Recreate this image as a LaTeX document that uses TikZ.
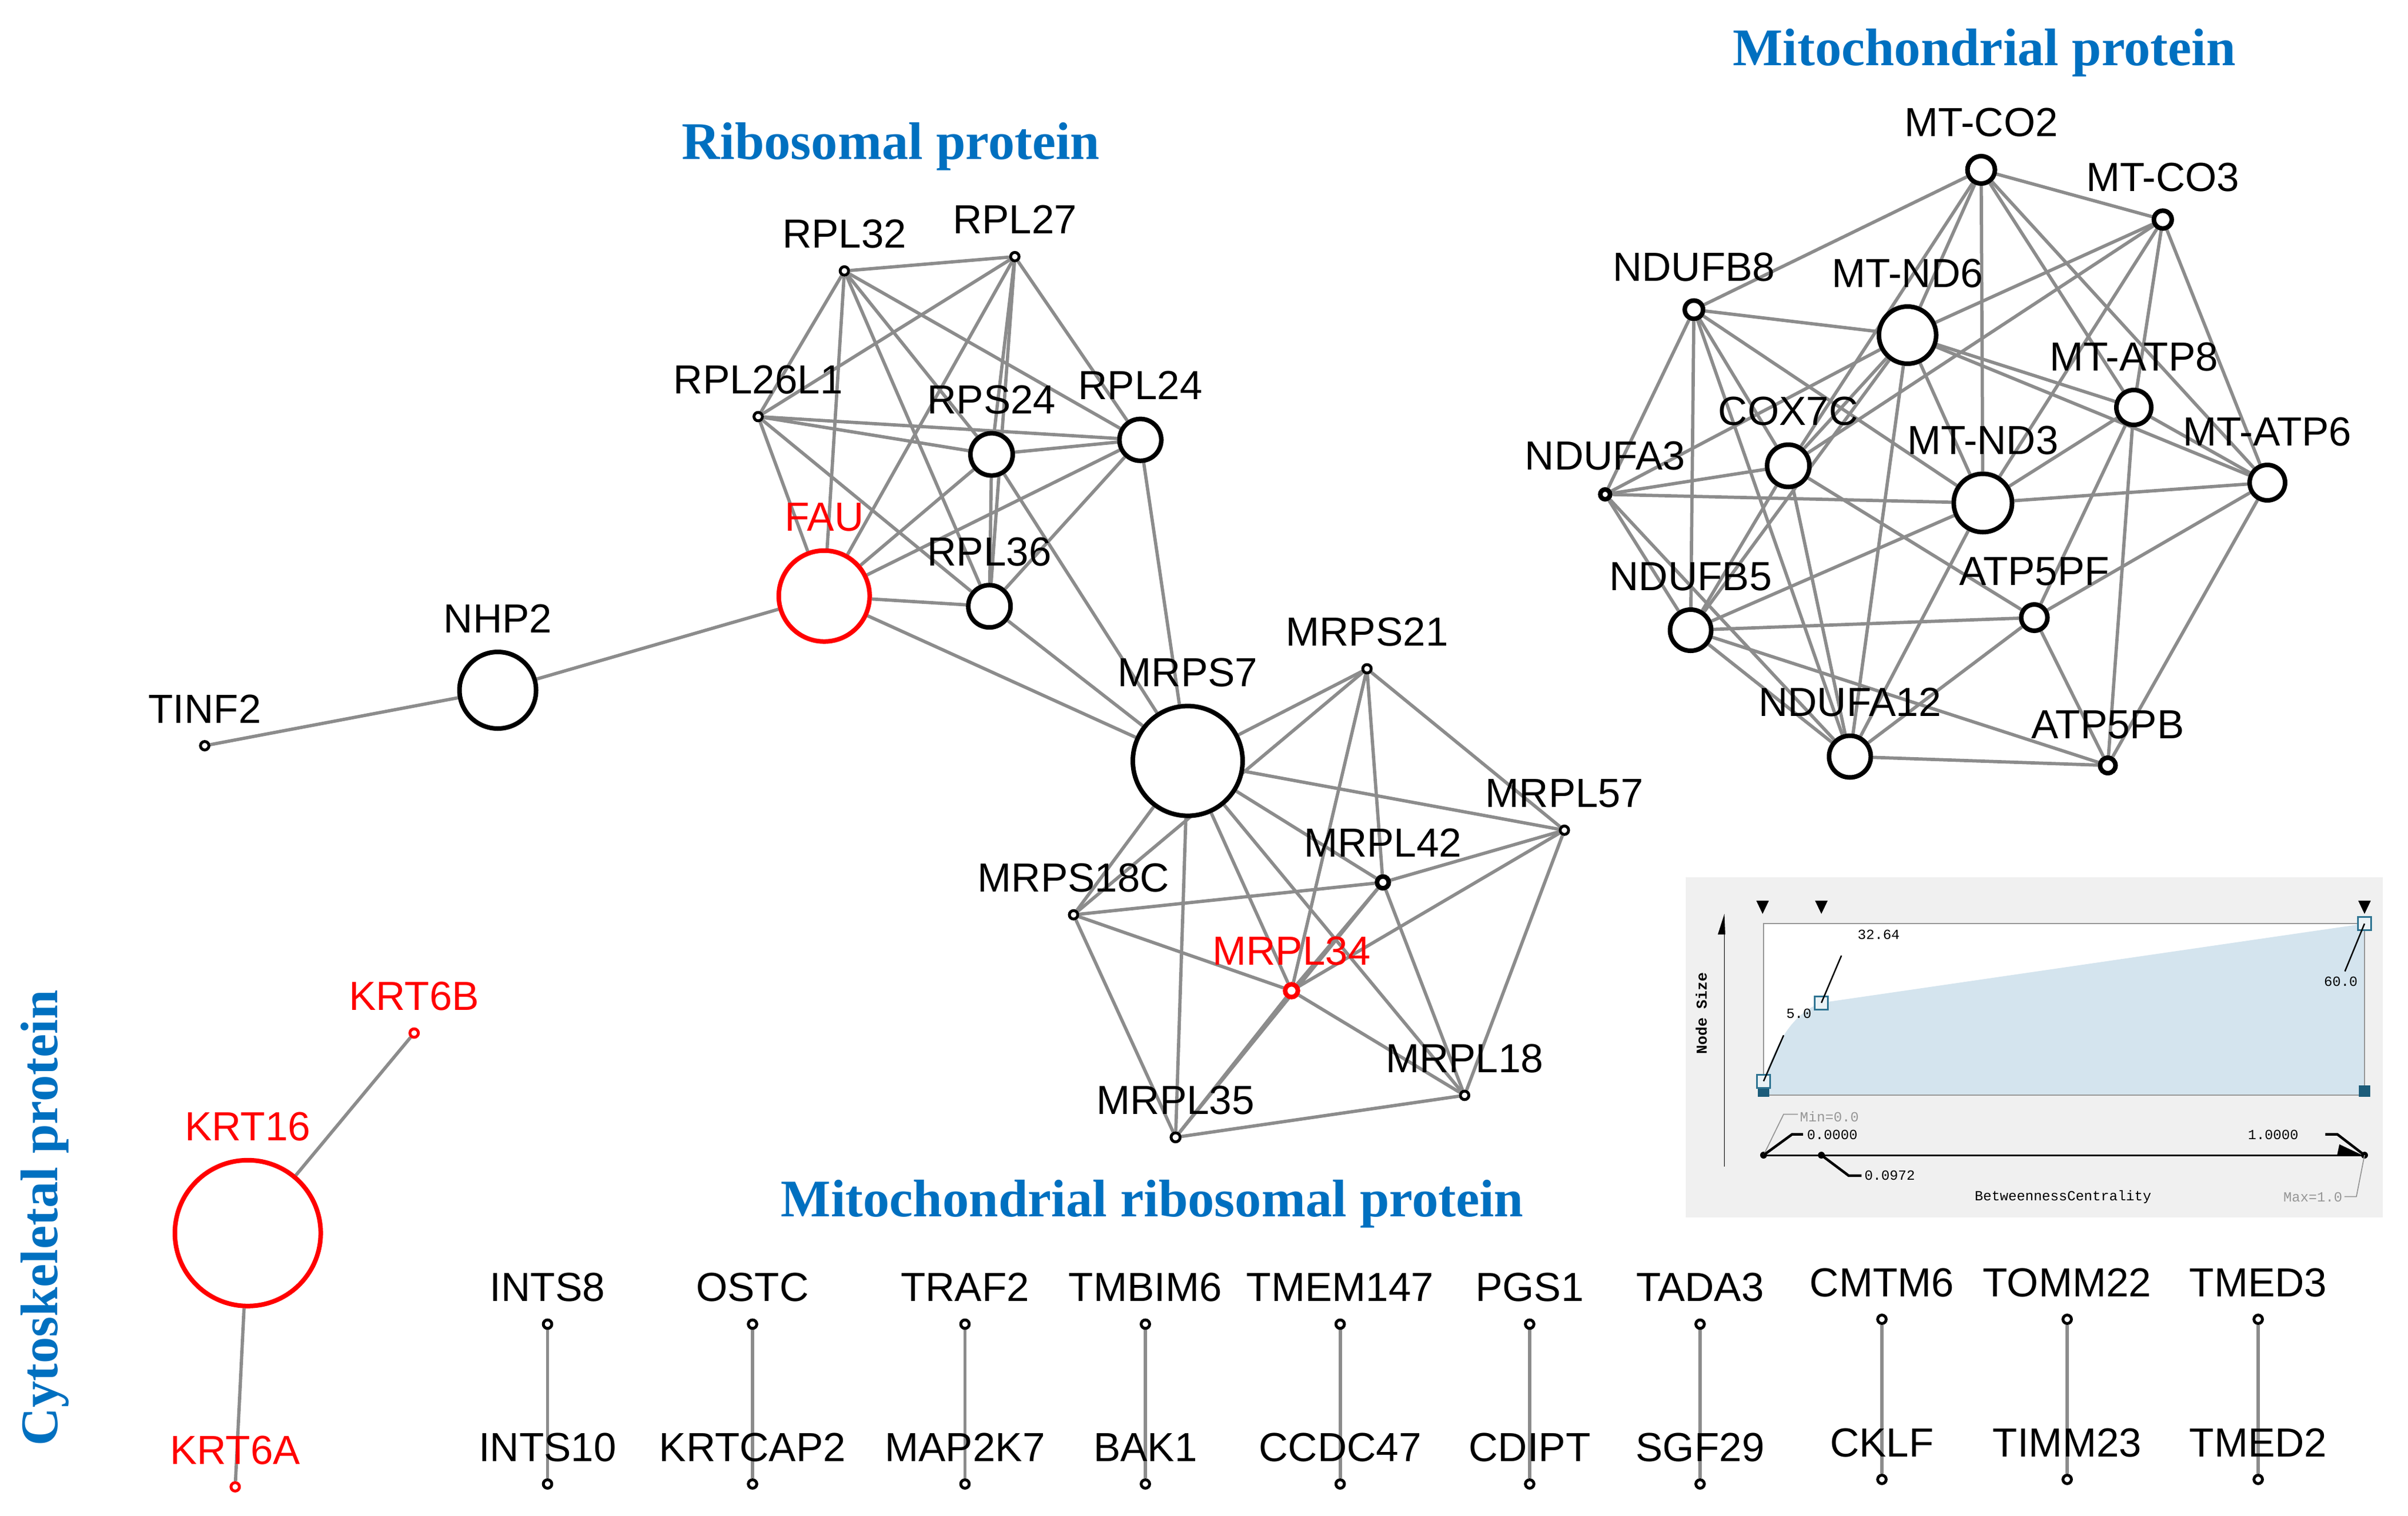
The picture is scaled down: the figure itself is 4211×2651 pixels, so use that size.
\documentclass[tikz,border=0pt]{standalone}
\usepackage{fontspec}
\setmainfont{Liberation Sans}
\newfontfamily\ttlfont{Liberation Serif}
\newfontfamily\lgmono{Liberation Mono}
\usetikzlibrary{backgrounds}
\definecolor{edgegray}{RGB}{140,140,140}
\definecolor{ttlblue}{RGB}{0,112,192}
\definecolor{lgbg}{RGB}{240,240,240}
\definecolor{lgfill}{RGB}{212,228,238}
\definecolor{lgdark}{RGB}{28,92,122}
\definecolor{lgline}{RGB}{45,115,145}
\definecolor{lggray}{RGB}{150,150,150}
\tikzset{
  nd/.style={circle,draw=black,line width=1.6pt,fill=white,inner sep=0pt,minimum size={0.4pt*#1}},
  tn/.style={circle,draw=black,line width=1pt,fill=white,inner sep=0pt,minimum size={0.4pt*#1}},
  lb/.style={anchor=base,inner sep=0pt,font=\fontsize{14.2}{16}\selectfont},
  lnk/.style={draw=edgegray,line width=1.15pt},
  ttl/.style={anchor=base,inner sep=0pt,text=ttlblue,font=\ttlfont\bfseries\fontsize{18.5}{22}\selectfont},
  lgt/.style={inner sep=0pt,font=\lgmono\fontsize{4.9}{5.5}\selectfont},
  hnd/.style={rectangle,draw=lgline,fill=lgfill!50!white,line width=0.6pt,minimum size=4.6pt,inner sep=0pt},
  dhnd/.style={rectangle,fill=lgdark,minimum size=4pt,inner sep=0pt},
  ldot/.style={circle,fill=black,minimum size=2.4pt,inner sep=0pt},
}
\begin{document}
\begin{tikzpicture}[x=0.2pt,y=-0.2pt,label distance=6pt]
\useasboundingbox (0,0) rectangle (4211,2651);

% ---------- titles
\node[ttl] (tRibo) at (1558,278.6) {Ribosomal protein};
\node[ttl] (tMito) at (3470,114.3) {Mitochondrial protein};
\node[ttl] (tMR) at (2015,2127) {Mitochondrial ribosomal protein};
\node[ttl,rotate=90] (tCyto) at (100,2130) {Cytoskeletal protein};

% ---------- ribosomal cluster
\node[tn=7.4,label={[lb]90:TINF2}] (TINF2) at (358,1304) {};
\node[nd=67,label={[lb]90:NHP2}] (NHP2) at (870.5,1207) {};
\node[nd=79.5,draw=red,label={[lb,text=red]90:FAU}] (FAU) at (1441.3,1042.3) {};
\node[tn=7.4,label={[lb]90:RPL32}] (RPL32) at (1476.6,473.8) {};
\node[tn=7.4,label={[lb]90:RPL27}] (RPL27) at (1774.7,448.8) {};
\node[tn=7.4,label={[lb]90:RPL26L1}] (RPL26L1) at (1325.9,728.5) {};
\node[nd=37,label={[lb]90:RPS24}] (RPS24) at (1734,794.6) {};
\node[nd=36.6,label={[lb]90:RPL24}] (RPL24) at (1994.2,769.2) {};
\node[nd=37,label={[lb]90:RPL36}] (RPL36) at (1730.2,1060.2) {};

% ---------- mitochondrial ribosomal cluster
\node[nd=96,label={[lb]90:MRPS7}] (MRPS7) at (2077,1330.6) {};
\node[tn=7.4,label={[lb]90:MRPS21}] (MRPS21) at (2390.5,1169.5) {};
\node[tn=7.4,label={[lb]90:MRPL57}] (MRPL57) at (2735.7,1451.8) {};
\node[nd=10.3,label={[lb]90:MRPL42}] (MRPL42) at (2418.3,1543) {};
\node[tn=7.4,label={[lb]90:MRPS18C}] (MRPS18C) at (1877.4,1599.7) {};
\node[nd=11.2,draw=red,label={[lb,text=red]90:MRPL34}] (MRPL34) at (2258.5,1732.4) {};
\node[tn=7.4,label={[lb]90:MRPL18}] (MRPL18) at (2561.2,1915.4) {};
\node[tn=7.9,label={[lb]90:MRPL35}] (MRPL35) at (2055.8,1988.8) {};

% ---------- mitochondrial cluster
\node[nd=24,label={[lb]90:MT-CO2}] (MTCO2) at (3464.6,297) {};
\node[nd=15.6,label={[lb]90:MT-CO3}] (MTCO3) at (3782.2,384) {};
\node[nd=16,label={[lb]90:NDUFB8}] (NDUFB8) at (2962.2,541.5) {};
\node[nd=50,label={[lb]90:MT-ND6}] (MTND6) at (3335.8,586) {};
\node[nd=30.5,label={[lb]90:MT-ATP8}] (MTATP8) at (3731.5,712.5) {};
\node[nd=37,label={[lb]90:COX7C}] (COX7C) at (3127.2,814.5) {};
\node[nd=8.6,label={[lb]90:NDUFA3}] (NDUFA3) at (2807,864.5) {};
\node[nd=51,label={[lb]90:MT-ND3}] (MTND3) at (3467.5,879.5) {};
\node[nd=31,label={[lb]90:MT-ATP6}] (MTATP6) at (3965,844) {};
\node[nd=36,label={[lb]90:NDUFB5}] (NDUFB5) at (2956.5,1102) {};
\node[nd=23,label={[lb]90:ATP5PF}] (ATP5PF) at (3557.5,1080) {};
\node[nd=36.5,label={[lb]90:NDUFA12}] (NDUFA12) at (3235,1323) {};
\node[nd=13.5,label={[lb]90:ATP5PB}] (ATP5PB) at (3686,1338.5) {};

% ---------- cytoskeletal
\node[nd=127.5,draw=red,line width=1.6pt,label={[lb,text=red]90:KRT16}] (KRT16) at (433.3,2156.3) {};
\node[tn=7.4,draw=red,label={[lb,text=red]90:KRT6B}] (KRT6B) at (724.2,1806.5) {};
\node[tn=7.4,draw=red,label={[lb,text=red]90:KRT6A}] (KRT6A) at (411.3,2600) {};

% ---------- pairs
\foreach \i/\x/\yt/\yb/\ta/\tb in {
  1/957.5/2315.5/2595/INTS8/INTS10,
  2/1316/2315.5/2595/OSTC/KRTCAP2,
  3/1687.5/2315.5/2595/TRAF2/MAP2K7,
  4/2003/2315.5/2595/TMBIM6/BAK1,
  5/2343.6/2315.5/2595/TMEM147/CCDC47,
  6/2675/2315.5/2595/PGS1/CDIPT,
  7/2973/2315.5/2595/TADA3/SGF29,
  8/3291/2307/2587/CMTM6/CKLF,
  9/3615/2307/2587/TOMM22/TIMM23,
  10/3949/2307/2587/TMED3/TMED2}{
  \node[tn=7.4,label={[lb]90:\ta}] (top\i) at (\x,\yt) {};
  \node[tn=7.4,label={[lb]90:\tb}] (bot\i) at (\x,\yb) {};
  \begin{pgfonlayer}{background}
    \draw[lnk] (top\i) -- (bot\i);
  \end{pgfonlayer}
}

% ---------- edges
\begin{pgfonlayer}{background}
\foreach \a/\b in {
  TINF2/NHP2, NHP2/FAU,
  RPL32/RPL27, RPL32/RPL26L1, RPL32/FAU, RPL32/RPS24, RPL32/RPL24, RPL32/RPL36,
  RPL27/RPL26L1, RPL27/FAU, RPL27/RPS24, RPL27/RPL36, RPL27/RPL24,
  RPL26L1/RPS24, RPL26L1/RPL24, RPL26L1/FAU, RPL26L1/RPL36,
  RPS24/RPL24, RPS24/FAU, RPS24/RPL36, RPS24/MRPS7,
  RPL24/FAU, RPL24/RPL36, RPL24/MRPS7,
  FAU/RPL36, FAU/MRPS7, RPL36/MRPS7,
  MRPS7/MRPS21, MRPS7/MRPS18C, MRPS7/MRPL57, MRPS7/MRPL42, MRPS7/MRPL18, MRPS7/MRPL34, MRPS7/MRPL35,
  MRPS21/MRPS18C, MRPS21/MRPL34, MRPS21/MRPL42, MRPS21/MRPL57,
  MRPS18C/MRPL42, MRPS18C/MRPL34, MRPS18C/MRPL35,
  MRPL42/MRPL57, MRPL42/MRPL34, MRPL42/MRPL35, MRPL42/MRPL18,
  MRPL57/MRPL34, MRPL57/MRPL18,
  MRPL34/MRPL18, MRPL34/MRPL35, MRPL35/MRPL18,
  MTCO2/NDUFB8, MTCO2/MTCO3, MTCO2/MTND6, MTCO2/COX7C, MTCO2/MTND3, MTCO2/MTATP8, MTCO2/MTATP6,
  MTCO3/MTND6, MTCO3/COX7C, MTCO3/MTND3, MTCO3/MTATP8, MTCO3/MTATP6,
  NDUFB8/MTND6, NDUFB8/MTND3, NDUFB8/COX7C, NDUFB8/NDUFA12, NDUFB8/NDUFB5, NDUFB8/NDUFA3,
  MTND6/NDUFA3, MTND6/MTATP8, MTND6/MTATP6, MTND6/MTND3, MTND6/COX7C, MTND6/NDUFA12, MTND6/NDUFB5,
  NDUFA3/COX7C, NDUFA3/MTND3, NDUFA3/NDUFB5, NDUFA3/NDUFA12,
  COX7C/NDUFB5, COX7C/NDUFA12, COX7C/ATP5PF,
  MTND3/MTATP8, MTND3/MTATP6, MTND3/NDUFB5, MTND3/NDUFA12,
  MTATP8/MTATP6, MTATP8/ATP5PF, MTATP8/ATP5PB,
  MTATP6/ATP5PF, MTATP6/ATP5PB,
  NDUFB5/ATP5PF, NDUFB5/NDUFA12, NDUFB5/ATP5PB,
  ATP5PF/NDUFA12, ATP5PF/ATP5PB, NDUFA12/ATP5PB,
  KRT16/KRT6B, KRT16/KRT6A}{
  \draw[lnk] (\a) -- (\b);
}
\end{pgfonlayer}

% ---------- legend
\fill[lgbg] (2947.7,1533.5) rectangle (4166.7,2128.5);
\fill[white] (3084,1615.2) rectangle (4135,1915.2);
\fill[lgfill] (3084,1915.2) -- (3084,1890.6) .. controls (3108,1815) and (3140,1770) .. (3185.1,1753.6) -- (4134.9,1615.2) -- (4134.9,1915.2) -- cycle;
\draw[lggray,line width=0.45pt] (3084,1615.2) rectangle (4135,1915.2);
% y axis
\draw[line width=0.35pt] (3015.4,2040) -- (3015.4,1625);
\fill (3004,1634) -- (3015.5,1598) -- (3017,1634) -- cycle;
\node[lgt,font=\lgmono\bfseries\fontsize{5.3}{6}\selectfont,rotate=90] (lgNS) at (2975,1772) {Node Size};
% top triangles
\foreach \x in {3082.3,3185.1,4134.9} \fill (\x-11,1575) -- (\x+11,1575) -- (\x,1598) -- cycle;
% handles
\node[dhnd] (hd1) at (3084,1908) {};
\node[dhnd] (hd2) at (4134.9,1908) {};
\node[hnd] (h1) at (3084,1890.6) {};
\node[hnd] (h2) at (3185.1,1753.6) {};
\node[hnd] (h3) at (4134.9,1615.2) {};
\coordinate (c50) at (3119.1,1810.3);
\coordinate (c3264) at (3220.2,1671);
\coordinate (c60) at (4100.6,1698.6);
\draw[line width=0.5pt] (h1.center) -- (c50);
\draw[line width=0.5pt] (h2.center) -- (c3264);
\draw[line width=0.5pt] (h3.center) -- (c60);
\node[lgt] (l50) at (3145.8,1772) {5.0};
\node[lgt] (l3264) at (3285.4,1634) {32.64};
\node[lgt] (l60) at (4093.5,1716.5) {60.0};
% bottom axis
\draw[line width=0.6pt] (3084,2020) -- (4135,2020);
\fill (4087,2020) -- (4131,2020) -- (4091,2001) -- cycle;
\node[ldot] (d1) at (3084,2020) {};
\node[ldot] (d2) at (3185.1,2020) {};
\node[ldot] (d3) at (4134.9,2020) {};
\draw[lggray,line width=0.35pt] (d1.center) -- (3119,1948.6) -- (3144,1948.6);
\node[lgt,text=lggray,anchor=west] (lMin) at (3146.7,1953) {Min=0.0};
\draw[line width=0.9pt] (d1.center) -- (3134,1983.5) -- (3153,1983.5);
\node[lgt,anchor=west] (l0) at (3159,1984) {0.0000};
\draw[line width=0.9pt] (d2.center) -- (3232.8,2055.8) -- (3255.3,2055.8);
\node[lgt,anchor=west] (l0972) at (3259.5,2055.8) {0.0972};
\draw[line width=0.9pt] (4066.4,1983.5) -- (4087.3,1983.5) -- (d3.center);
\node[lgt,anchor=west] (l1) at (3930,1984) {1.0000};
\draw[lggray,line width=0.35pt] (d3.center) -- (4120.7,2092.4) -- (4099.8,2092.4);
\node[lgt,text=lggray,anchor=east] (lMax) at (4097,2093.7) {Max=1.0};
\node[lgt] (lBC) at (3607.7,2092.8) {BetweennessCentrality};
\end{tikzpicture}
\end{document}
